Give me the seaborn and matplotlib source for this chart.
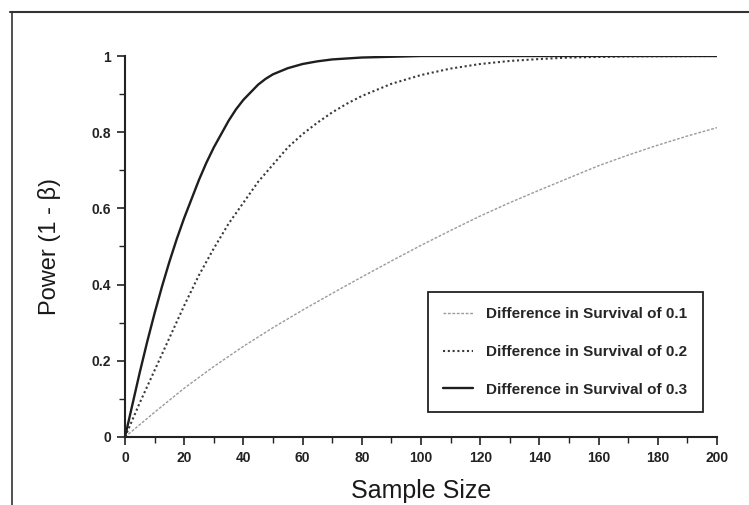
import numpy as np
import pandas as pd
import matplotlib
matplotlib.use("Agg")
import matplotlib.pyplot as plt
from matplotlib.lines import Line2D
from matplotlib.ticker import MultipleLocator, FuncFormatter
import seaborn as sns

# ---- data ----
n_01 = [0, 10, 20, 30, 40, 50, 60, 70, 80, 90, 100, 110, 120, 130, 140, 150, 160, 170, 180, 190, 200]
p_01 = [0, 0.065, 0.128, 0.185, 0.238, 0.287, 0.333, 0.377, 0.42, 0.462, 0.503, 0.542, 0.58, 0.615, 0.648, 0.68, 0.712, 0.74, 0.766, 0.79, 0.812]

n_02 = [0, 5, 10, 15, 20, 25, 30, 35, 40, 45, 50, 55, 60, 65, 70, 75, 80, 90, 100, 110, 120, 130, 140, 150, 170, 200]
p_02 = [0, 0.09, 0.175, 0.26, 0.345, 0.425, 0.495, 0.56, 0.615, 0.67, 0.715, 0.76, 0.795, 0.825, 0.852, 0.875, 0.895, 0.927, 0.95, 0.967, 0.979, 0.987, 0.992, 0.996, 0.999, 1.0]

n_03 = [0, 2.5, 5, 7.5, 10, 12.5, 15, 17.5, 20, 22.5, 25, 27.5, 30, 32.5, 35, 37.5, 40, 42.5, 45, 47.5, 50, 55, 60, 65, 70, 80, 90, 100, 150, 200]
p_03 = [0, 0.085, 0.17, 0.25, 0.325, 0.395, 0.46, 0.52, 0.575, 0.625, 0.675, 0.72, 0.76, 0.795, 0.83, 0.86, 0.885, 0.905, 0.925, 0.94, 0.952, 0.968, 0.979, 0.986, 0.991, 0.996, 0.998, 1.0, 1.0, 1.0]

labels = ["Difference in Survival of 0.1", "Difference in Survival of 0.2", "Difference in Survival of 0.3"]

x_ticks = [0, 20, 40, 60, 80, 100, 120, 140, 160, 180, 200]
y_ticks = [0, 0.2, 0.4, 0.6, 0.8, 1.0]

df = pd.concat([
    pd.DataFrame({"n": n_01, "p": p_01, "series": labels[0]}),
    pd.DataFrame({"n": n_02, "p": p_02, "series": labels[1]}),
    pd.DataFrame({"n": n_03, "p": p_03, "series": labels[2]}),
], ignore_index=True)

sns.set_theme(style="white")
plt.rcParams["font.family"] = ["Liberation Sans", "DejaVu Sans"]

fig = plt.figure(figsize=(7.49, 5.05), dpi=100)
ax = fig.add_axes([125/749, 1 - 437/505, (717-125)/749, (437-56)/505])

palette = {labels[0]: "#9a9a9a", labels[1]: "#3a3a3a", labels[2]: "#1e1e1e"}
dashes = {labels[0]: (2, 1.2), labels[1]: (1, 1.3), labels[2]: ""}
widths = {labels[0]: 1.0, labels[1]: 1.5, labels[2]: 1.7}

sns.lineplot(data=df, x="n", y="p", hue="series", style="series",
             palette=palette, dashes=dashes, ax=ax, legend=False)
for line, lab in zip(ax.get_lines(), labels):
    line.set_linewidth(widths[lab])
    line.set_solid_joinstyle("round")

ax.set_xlim(0, 200)
ax.set_ylim(0, 1)
ax.set_xticks(x_ticks)
ax.set_yticks(y_ticks)
ax.xaxis.set_minor_locator(MultipleLocator(10))
ax.yaxis.set_minor_locator(MultipleLocator(0.1))
ax.yaxis.set_major_formatter(FuncFormatter(lambda v, _: f"{v:g}"))
ax.tick_params(axis="both", which="major", direction="out", length=6, width=1.2,
               color="#222222", labelsize=10, labelcolor="#222222", pad=4,
               bottom=True, left=True)
ax.tick_params(axis="both", which="minor", direction="out", length=4, width=1.0,
               color="#222222", bottom=True, left=True)
for lab in ax.get_xticklabels() + ax.get_yticklabels():
    lab.set_fontweight("bold")

for s in ["top", "right"]:
    ax.spines[s].set_visible(False)
for s in ["left", "bottom"]:
    ax.spines[s].set_color("#222222")
    ax.spines[s].set_linewidth(1.5)

ax.set_xlabel("Sample Size", fontsize=18, color="#1a1a1a", labelpad=10)
ax.set_ylabel("Power (1 - β)", fontsize=17, color="#1a1a1a", labelpad=22)

handles = [Line2D([], [], color=palette[l], dashes=dashes[l] if dashes[l] else (None, None),
                  linewidth=widths[l]) for l in labels]
handles[2].set_linestyle("-")
leg = ax.legend(handles, labels, loc="lower right", bbox_to_anchor=(0.976, 0.066),
                frameon=True, fancybox=False, edgecolor="#222222", framealpha=1,
                prop={"size": 11, "weight": "bold"}, handlelength=2.0,
                labelspacing=1.55, borderpad=1.0, handletextpad=0.85, borderaxespad=0)
leg.get_frame().set_linewidth(1.3)

# scanned page border
fig.add_artist(Line2D([10/749, 1], [1 - 12/505, 1 - 12/505], transform=fig.transFigure,
                      color="#333333", linewidth=1.5))
fig.add_artist(Line2D([12/749, 12/749], [0, 1 - 12/505], transform=fig.transFigure,
                      color="#333333", linewidth=1.2))

fig.savefig("out.png", dpi=100, facecolor="white")
